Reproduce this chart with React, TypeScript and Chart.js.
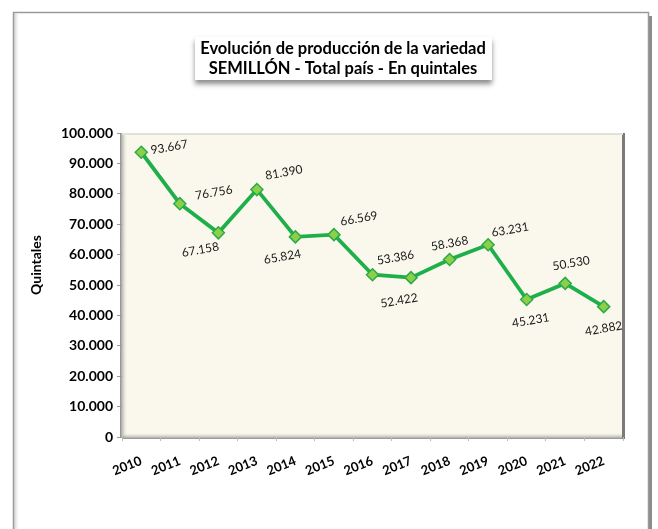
import React, { useEffect, useRef } from "react";
import { Chart, registerables } from "chart.js";

Chart.register(...registerables);

const years = ["2010","2011","2012","2013","2014","2015","2016","2017","2018","2019","2020","2021","2022"];
const quintales = [93667, 76756, 67158, 81390, 65824, 66569, 53386, 52422, 58368, 63231, 45231, 50530, 42882];
const valueLabels = ["93.667","76.756","67.158","81.390","65.824","66.569","53.386","52.422","58.368","63.231","45.231","50.530","42.882"];
const labelDx = [28, 34, -18, 27, -13, 25, 23, -12, 0, 22, 4, 6, 0];
const labelDy = [-5, -11, 17, -17, 20, -16, -17, 23, -16, -15, 21, -20, 22];
const titleLines = ["Evolución de producción de la variedad", "SEMILLÓN - Total país - En quintales"];
const yAxisTitle = "Quintales";

const FONT = "Lato, 'Open Sans', sans-serif";

const fmt = (v: number) => {
  if (v === 0) return "0";
  const s = String(Math.round(v));
  return s.replace(/\B(?=(\d{3})+(?!\d))/g, ".");
};

const decorPlugin = {
  id: "decor",
  beforeDraw(chart: any) {
    const ctx = chart.ctx;
    const W = chart.width;
    const H = chart.height;
    ctx.save();
    ctx.fillStyle = "#ffffff";
    ctx.fillRect(0, 0, W, H);
    // outer frame shadow
    ctx.fillStyle = "#8c8c8c";
    ctx.fillRect(648, 16, 4, H);
    ctx.fillStyle = "#ffffff";
    ctx.fillRect(13, 12, 635, H);
    ctx.strokeStyle = "#9a9a9a";
    ctx.lineWidth = 1.5;
    ctx.strokeRect(13.5, 12.5, 635, H);
    const g = ctx.createLinearGradient(14, 0, 20, 0);
    g.addColorStop(0, "#c8c8c8");
    g.addColorStop(1, "rgba(255,255,255,0)");
    ctx.fillStyle = g;
    ctx.fillRect(14, 13, 6, H);

    // title box
    ctx.shadowColor = "rgba(0,0,0,0.45)";
    ctx.shadowBlur = 5;
    ctx.shadowOffsetY = 4;
    ctx.fillStyle = "#ffffff";
    ctx.fillRect(195, 37, 297, 43);
    ctx.shadowColor = "transparent";
    ctx.shadowBlur = 0;
    ctx.shadowOffsetY = 0;
    ctx.fillStyle = "#000000";
    ctx.font = `bold 16.5px ${FONT}`;
    ctx.textAlign = "center";
    ctx.textBaseline = "middle";
    ctx.fillText(titleLines[0], 343, 49);
    ctx.fillText(titleLines[1], 343, 69);

    // plot area
    const a = chart.chartArea;
    ctx.fillStyle = "#FAF8EC";
    ctx.fillRect(a.left, a.top, a.right - a.left, a.bottom - a.top);
    // 3D edges
    const gl = ctx.createLinearGradient(a.left - 2, 0, a.left + 5, 0);
    gl.addColorStop(0, "#8a8a8a");
    gl.addColorStop(1, "rgba(220,220,210,0)");
    ctx.fillStyle = gl;
    ctx.fillRect(a.left - 2, a.top, 7, a.bottom - a.top);
    const gb = ctx.createLinearGradient(0, a.bottom - 4, 0, a.bottom + 2);
    gb.addColorStop(0, "rgba(220,220,210,0)");
    gb.addColorStop(1, "#8a8a8a");
    ctx.fillStyle = gb;
    ctx.fillRect(a.left, a.bottom - 4, a.right - a.left, 6);
    ctx.fillStyle = "#7a7a7a";
    ctx.fillRect(a.right - 1, a.top, 3, a.bottom - a.top + 2);
    ctx.fillStyle = "#e4e2d8";
    ctx.fillRect(a.left, a.top, a.right - a.left, 2);

    // y axis title
    ctx.save();
    ctx.translate(36, 265);
    ctx.rotate(-Math.PI / 2);
    ctx.font = `bold 14px ${FONT}`;
    ctx.fillStyle = "#000";
    ctx.fillText(yAxisTitle, 0, 0);
    ctx.restore();
    ctx.restore();
  },
  afterDatasetsDraw(chart: any) {
    const ctx = chart.ctx;
    const meta = chart.getDatasetMeta(0);
    ctx.save();
    ctx.font = `12px ${FONT}`;
    ctx.fillStyle = "#1a1a1a";
    ctx.textAlign = "center";
    ctx.textBaseline = "middle";
    meta.data.forEach((pt: any, i: number) => {
      ctx.save();
      ctx.translate(pt.x + labelDx[i], pt.y + labelDy[i]);
      ctx.rotate(-10 * Math.PI / 180);
      ctx.fillText(valueLabels[i], 0, 0);
      ctx.restore();
    });
    ctx.restore();
  },
};

export default function App() {
  const ref = useRef<HTMLCanvasElement | null>(null);
  useEffect(() => {
    if (!ref.current) return;
    const chart = new Chart(ref.current, {
      type: "line",
      data: {
        labels: years,
        datasets: [
          {
            data: quintales,
            borderColor: "#1EAF4A",
            borderWidth: 3.8,
            pointStyle: "rectRot",
            pointRadius: 6,
            pointBackgroundColor: "#8CD04A",
            pointBorderColor: "#2DAA48",
            pointBorderWidth: 1.5,
            tension: 0,
          },
        ],
      },
      plugins: [decorPlugin],
      options: {
        responsive: false,
        animation: false,
        layout: { padding: { left: 0, top: 133, right: 35, bottom: 0 } },
        plugins: { legend: { display: false }, tooltip: { enabled: false }, title: { display: false } },
        scales: {
          x: {
            offset: true,
            grid: { display: true, drawOnChartArea: false, offset: true, tickLength: 4, color: "#bbbbbb" },
            border: { display: false },
            ticks: {
              minRotation: 22,
              maxRotation: 22,
              color: "#000",
              font: { family: FONT, size: 13, weight: "bold" },
              padding: 12,
            },
            afterFit: (s: any) => { s.height = 529 - 437; },
          },
          y: {
            min: 0,
            max: 100000,
            grid: { display: true, drawOnChartArea: false, tickLength: 5, color: "#999999" },
            border: { display: false },
            ticks: {
              stepSize: 10000,
              color: "#000",
              font: { family: FONT, size: 14, weight: "bold" },
              padding: 4,
              callback: (v: any) => fmt(Number(v)),
            },
            afterFit: (s: any) => { s.width = 122; },
          },
        },
      },
    });
    return () => chart.destroy();
  }, []);
  return (
    <div style={{ position: "fixed", left: 0, top: 0, width: 658, height: 529 }}>
      <canvas ref={ref} width={658} height={529} style={{ width: 658, height: 529, display: "block" }} />
    </div>
  );
}
